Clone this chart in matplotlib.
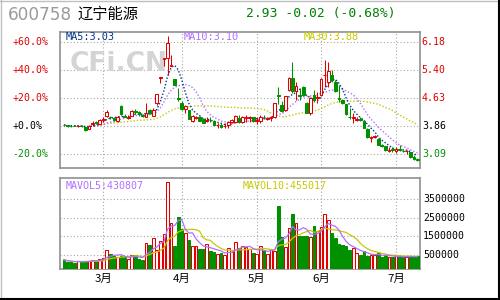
import matplotlib
matplotlib.use('Agg')
import matplotlib.pyplot as plt
import numpy as np
import pandas as pd

# ---------------- data ----------------
open_ = [3.90, 3.88, 3.87, 3.87, 3.85, 3.87, 3.83, 3.78, 3.92, 3.96,
         3.93, 4.04, 4.13, 4.12, 4.09, 4.00, 4.40, 4.15, 4.08, 4.15,
         4.27, 4.26, 4.16, 4.11, 4.31, 4.15, 4.50, 5.18, 5.70, 5.73,
         5.52, 5.14, 4.63, 4.50, 4.33, 4.30, 4.00, 4.09, 4.10, 4.06,
         4.01, 4.04, 4.00, 3.89, 3.90, 3.85, 3.89, 3.96, 3.97, 4.08,
         3.97, 4.08, 4.08, 4.10, 4.00, 4.01, 4.12, 4.05, 4.07, 4.10,
         4.72, 4.43, 4.29, 4.85, 5.19, 4.81, 4.72, 4.94, 4.50, 4.23,
         4.72, 4.62, 4.72, 5.25, 5.08, 5.26, 5.06, 4.63, 4.58, 4.46,
         4.11, 4.07, 4.04, 4.06, 4.00, 3.79, 3.54, 3.56, 3.52, 3.34,
         3.31, 3.19, 3.22, 3.17, 3.23, 3.19, 3.17, 3.15, 3.01, 2.95]
close = [3.89, 3.85, 3.86, 3.86, 3.87, 3.85, 3.76, 3.87, 3.95, 3.95,
         4.04, 4.06, 4.24, 4.10, 4.03, 4.11, 4.18, 4.12, 4.12, 4.27,
         4.24, 4.18, 4.13, 4.22, 4.21, 4.31, 4.73, 5.20, 5.73, 6.14,
         5.55, 5.00, 4.60, 4.33, 4.40, 4.06, 4.15, 4.11, 4.01, 3.95,
         4.04, 4.02, 3.90, 3.90, 3.83, 3.87, 3.98, 4.02, 4.15, 3.97,
         4.10, 4.10, 4.10, 3.99, 4.03, 4.12, 4.10, 4.07, 4.10, 4.49,
         4.70, 4.28, 4.69, 5.17, 4.81, 4.97, 4.70, 4.72, 4.23, 4.64,
         4.58, 4.67, 5.15, 5.27, 5.37, 5.13, 4.81, 4.60, 4.49, 4.19,
         4.10, 4.10, 4.06, 4.03, 3.82, 3.55, 3.56, 3.59, 3.35, 3.32,
         3.20, 3.21, 3.20, 3.24, 3.20, 3.18, 3.19, 3.01, 2.95, 2.93]
high = [3.92, 3.89, 3.88, 3.88, 3.88, 3.88, 3.84, 3.88, 3.99, 3.99,
        4.06, 4.12, 4.31, 4.15, 4.10, 4.15, 4.43, 4.18, 4.16, 4.30,
        4.33, 4.28, 4.20, 4.50, 4.34, 4.35, 4.75, 5.21, 5.74, 6.32,
        5.82, 5.16, 4.91, 4.55, 4.45, 4.31, 4.17, 4.13, 4.14, 4.08,
        4.10, 4.12, 4.02, 3.94, 3.94, 3.94, 3.99, 4.05, 4.16, 4.17,
        4.13, 4.17, 4.15, 4.12, 4.10, 4.17, 4.16, 4.11, 4.15, 4.50,
        4.94, 4.55, 4.70, 5.20, 5.63, 5.08, 4.90, 4.95, 4.52, 4.65,
        4.85, 4.79, 5.18, 5.67, 5.63, 5.40, 5.13, 4.99, 4.60, 4.48,
        4.35, 4.21, 4.12, 4.10, 4.01, 3.80, 3.58, 3.62, 3.54, 3.36,
        3.32, 3.30, 3.28, 3.30, 3.33, 3.22, 3.20, 3.16, 3.06, 2.99]
low = [3.86, 3.83, 3.84, 3.85, 3.84, 3.84, 3.74, 3.77, 3.87, 3.92,
       3.92, 3.98, 4.11, 4.06, 4.00, 3.98, 4.16, 4.10, 4.06, 4.13,
       4.18, 4.14, 4.10, 4.10, 4.19, 4.13, 4.45, 5.04, 5.50, 5.25,
       5.50, 4.98, 4.55, 4.30, 4.22, 4.05, 3.98, 4.05, 4.00, 3.94,
       3.98, 3.96, 3.88, 3.81, 3.81, 3.81, 3.81, 3.94, 3.95, 3.94,
       3.95, 3.97, 3.97, 3.97, 3.91, 3.94, 4.05, 4.03, 4.01, 4.08,
       4.48, 4.26, 4.27, 4.82, 4.78, 4.58, 4.58, 4.70, 4.21, 4.17,
       4.53, 4.49, 4.68, 4.94, 4.94, 5.08, 4.79, 4.53, 4.47, 4.17,
       4.06, 3.94, 3.99, 4.00, 3.80, 3.53, 3.42, 3.53, 3.34, 3.30,
       3.19, 3.15, 3.15, 3.12, 3.17, 3.16, 3.10, 2.99, 2.94, 2.91]
volume_k = [272, 149, 149, 96, 184, 184, 184, 219, 272, 184,
            307, 360, 798, 570, 447, 395, 447, 395, 325, 500,
            500, 307, 272, 1149, 1061, 1412, 798, 1237, 1623, 4360,
            2200, 974, 2553, 1880, 1700, 1325, 974, 974, 851, 851,
            1096, 746, 675, 570, 605, 500, 900, 700, 1200, 900,
            1000, 921, 851, 623, 570, 974, 798, 570, 851, 746,
            3130, 1447, 921, 1939, 2675, 2202, 1500, 1500, 1500, 1447,
            2079, 1763, 2026, 2675, 2377, 1675, 1412, 1096, 1026, 991,
            798, 886, 623, 500, 711, 447, 500, 500, 623, 412,
            500, 412, 412, 500, 412, 400, 400, 480, 450, 440]

month_idx = [11, 33, 54, 72, 93]
month_labels = ['3月', '4月', '5月', '6月', '7月']

base_price = 3.86
pct_levels = [60, 40, 20, 0, -20]
vol_levels = [3500000, 2500000, 1500000, 500000]

code = '600758'
name = '辽宁能源'
quote = '2.93 -0.02 (-0.68%)'
ma_labels = ['MA5:3.03', 'MA10:3.10', 'MA30:3.88']
mavol_labels = ['MAVOL5:430807', 'MAVOL10:455017']

# ---------------- styles ----------------
RED = '#e00000'
GREEN = '#009000'
MA5C = '#00368c'
MA10C = '#b070ff'
MA30C = '#c8c800'
GRID = '#a8a8a8'
FRAME = '#909090'
MONO = 'DejaVu Sans Mono'
CJK = ['Noto Sans CJK SC', 'DejaVu Sans']

O = np.array(open_); C = np.array(close); Hh = np.array(high); L = np.array(low)
V = np.array(volume_k) * 1000.0
x = np.arange(len(C))
up = C >= O
cols = np.where(up, RED, GREEN)
faces = np.where(up, 'white', GREEN)

W, Hpx = 500, 300
fig = plt.figure(figsize=(5, 3), dpi=100)
fig.patch.set_facecolor('white')


def rect(l, t, r, b):
    return [l / W, 1 - b / Hpx, (r - l) / W, (b - t) / Hpx]


axp = fig.add_axes(rect(60, 31.7, 420, 167.7))
axv = fig.add_axes(rect(60, 178.3, 420, 268.7))

xlim = (-1.12, 99.72)
plevels = [base_price * (1 + p / 100) for p in pct_levels]
ylo, yhi = 2.72, 6.45
vlo, vhi = -210000, 4580000

for ax in (axp, axv):
    ax.set_xlim(*xlim)
    for s in ax.spines.values():
        s.set_color(FRAME)
        s.set_linewidth(1.2)
    ax.tick_params(length=0)
    ax.set_yticks([])
    for m in month_idx:
        ax.axvline(m, color=GRID, lw=0.8, ls=(0, (1, 2)), zorder=0)

axp.set_ylim(ylo, yhi)
axv.set_ylim(vlo, vhi)
axp.set_xticks([])

for p in plevels:
    axp.axhline(p, color=GRID, lw=0.8, ls=(0, (1, 2)), zorder=0)
for v in vol_levels:
    axv.axhline(v, color=GRID, lw=0.8, ls=(0, (1, 2)), zorder=0)

# watermark
axp.text(0.028, 0.76, 'CFi.CN', transform=axp.transAxes, fontsize=19,
         fontweight='bold', color='#d4d4d4', ha='left', va='center', zorder=1,
         family='DejaVu Sans')

# moving averages
cs = pd.Series(C)
ma5 = cs.rolling(5, min_periods=1).mean()
ma10 = cs.rolling(10, min_periods=1).mean()
ma30 = cs.rolling(30, min_periods=1).mean()
dot = (0, (1, 1.4))
axp.plot(x, ma30, color=MA30C, lw=1.0, ls=dot, zorder=2)
axp.plot(x, ma10, color=MA10C, lw=1.0, ls=dot, zorder=2)
axp.plot(x, ma5, color=MA5C, lw=1.0, ls=dot, zorder=2)

# candles
BW = 0.76
LW = 0.75
axp.vlines(x, L, Hh, colors=cols, lw=LW, zorder=3)
axp.bar(x, np.maximum(np.abs(C - O), 0.003), bottom=np.minimum(O, C), width=BW,
        color=faces, edgecolor=cols, linewidth=LW, zorder=4)

# volume
axv.bar(x, V - vlo, bottom=vlo, width=BW, color=faces, edgecolor=cols,
        linewidth=LW, zorder=3)
vs = pd.Series(V)
axv.plot(x, vs.rolling(10, min_periods=1).mean(), color=MA30C, lw=0.9, zorder=4)
axv.plot(x, vs.rolling(5, min_periods=1).mean(), color=MA10C, lw=0.9, zorder=4)

# month labels
axv.set_xticks(month_idx)
axv.set_xticklabels(month_labels, family=CJK, fontsize=8.2)
axv.tick_params(axis='x', pad=3.5)

# price labels
ytr = axp.get_yaxis_transform()
for p, pc, lv in zip(plevels, pct_levels, plevels):
    if pc > 0:
        c = RED; lab = '+%.1f%%' % pc
    elif pc == 0:
        c = 'black'; lab = '+0.0%'
    else:
        c = GREEN; lab = '%.1f%%' % pc
    axp.text(-0.132, p, lab, transform=ytr, ha='left', va='center',
             family=MONO, fontsize=7.1, color=c)
    axp.text(1.005, p, '%.2f' % lv, transform=ytr, ha='left', va='center',
             family=MONO, fontsize=7.1, color=c)

vtr = axv.get_yaxis_transform()
for v in vol_levels:
    axv.text(1.009, v, str(v), transform=vtr, ha='left', va='center',
             family=MONO, fontsize=7.1, color='black')

# legends
for lab, xa, c in zip(ma_labels, [0.016, 0.3425, 0.676], [MA5C, MA10C, MA30C]):
    axp.text(xa, 0.995, lab, transform=axp.transAxes, ha='left', va='top',
             family=MONO, fontsize=7.4, color=c, zorder=6)
for lab, xa, c in zip(mavol_labels, [0.0167, 0.508], [MA10C, MA30C]):
    axv.text(xa, 0.965, lab, transform=axv.transAxes, ha='left', va='top',
             family=MONO, fontsize=7.2, color=c, zorder=6)

# header
fig.text(8 / W, 1 - 15.5 / Hpx, code, ha='left', va='center', fontsize=12.2,
         color='#9a9a9a', family='DejaVu Sans')
fig.text(78 / W, 1 - 14 / Hpx, name, ha='left', va='center', fontsize=11,
         color='black', family=CJK)
fig.text(246 / W, 1 - 13.5 / Hpx, quote, ha='left', va='center', fontsize=9.4,
         color='#008000', family=MONO)

# outer frame
from matplotlib.lines import Line2D
fig.add_artist(Line2D([0.5 / W, 0.5 / W], [0, 1], color='#c0c0c0', lw=1, transform=fig.transFigure))
fig.add_artist(Line2D([0, 1], [1 - 0.5 / Hpx, 1 - 0.5 / Hpx], color='#c0c0c0', lw=1, transform=fig.transFigure))
fig.add_artist(Line2D([1 - 1 / W, 1 - 1 / W], [0, 1], color='black', lw=1.5, transform=fig.transFigure))
fig.add_artist(Line2D([0, 1], [1 / Hpx, 1 / Hpx], color='black', lw=1.5, transform=fig.transFigure))

fig.savefig('out.png', dpi=100, facecolor='white')
